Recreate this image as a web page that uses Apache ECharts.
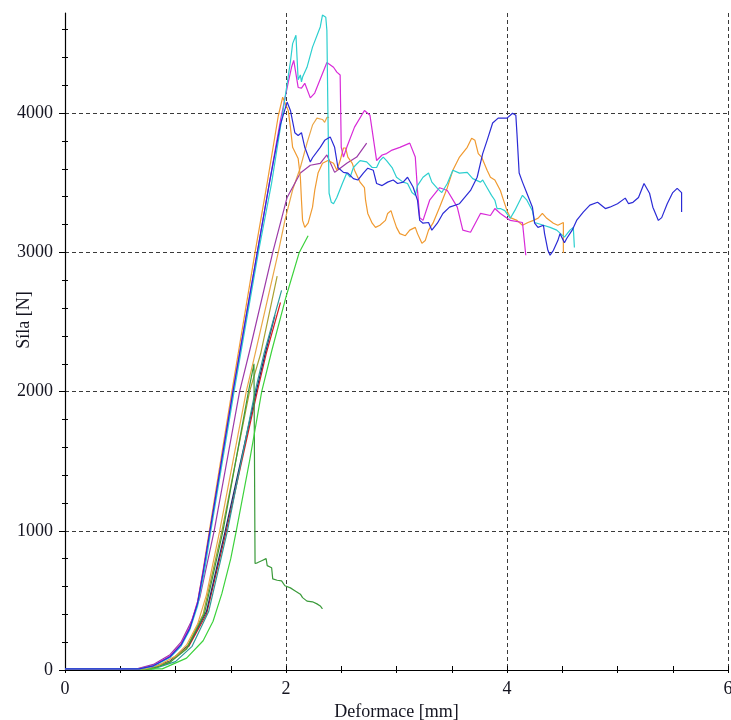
<!DOCTYPE html>
<html>
<head>
<meta charset="utf-8">
<script src="https://cdn.jsdelivr.net/npm/echarts@6/dist/echarts.min.js"></script>
<style>
  html, body { margin: 0; padding: 0; background: #fff; }
  #chart { width: 731px; height: 720px; }
</style>
</head>
<body>
<div id="chart"></div>
<script>
// Force–deformation curves, [deformation mm, force N]
const blue = [[0,8],[0.67,8],[0.8,30],[0.95,95],[1.05,180],[1.13,300],[1.2,480],[1.25,700],[1.31,990],[1.52,2000],[1.74,3000],[1.85,3500],[1.95,3920],[2.01,4080],[2.04,4020],[2.08,3860],[2.11,3840],[2.14,3860],[2.17,3755],[2.22,3650],[2.24,3680],[2.31,3755],[2.35,3805],[2.40,3830],[2.44,3755],[2.47,3610],[2.52,3575],[2.56,3570],[2.61,3530],[2.65,3520],[2.70,3570],[2.74,3605],[2.79,3590],[2.82,3495],[2.87,3480],[2.92,3505],[2.97,3520],[3.01,3495],[3.06,3505],[3.10,3540],[3.15,3470],[3.19,3375],[3.21,3230],[3.24,3210],[3.29,3215],[3.32,3160],[3.37,3210],[3.42,3280],[3.48,3325],[3.57,3350],[3.67,3445],[3.73,3540],[3.78,3710],[3.82,3805],[3.87,3930],[3.92,3965],[4.00,3965],[4.03,3985],[4.05,4000],[4.08,3985],[4.09,3855],[4.11,3570],[4.14,3505],[4.18,3425],[4.23,3325],[4.25,3210],[4.28,3180],[4.33,3195],[4.34,3135],[4.37,3015],[4.39,2980],[4.42,3015],[4.46,3085],[4.48,3135],[4.52,3070],[4.54,3100],[4.59,3160],[4.63,3230],[4.69,3290],[4.75,3340],[4.82,3360],[4.89,3315],[4.93,3325],[5.00,3350],[5.07,3390],[5.10,3350],[5.14,3360],[5.19,3395],[5.24,3495],[5.29,3425],[5.32,3325],[5.37,3230],[5.40,3250],[5.45,3350],[5.50,3430],[5.54,3460],[5.58,3430],[5.58,3290]];

const cyan = [[0,8],[0.68,8],[0.8,28],[0.95,90],[1.05,170],[1.13,290],[1.2,460],[1.26,700],[1.32,1000],[1.53,2000],[1.75,3000],[1.87,3500],[1.97,4000],[2.04,4370],[2.06,4500],[2.09,4560],[2.10,4400],[2.11,4240],[2.13,4275],[2.14,4225],[2.15,4260],[2.19,4330],[2.24,4475],[2.31,4620],[2.33,4705],[2.36,4690],[2.37,4595],[2.38,3970],[2.39,3425],[2.41,3360],[2.43,3350],[2.46,3395],[2.51,3495],[2.55,3570],[2.58,3540],[2.61,3610],[2.67,3660],[2.73,3650],[2.78,3610],[2.82,3610],[2.85,3660],[2.88,3685],[2.91,3660],[2.96,3610],[3.00,3540],[3.06,3505],[3.10,3495],[3.14,3430],[3.17,3410],[3.19,3480],[3.24,3540],[3.29,3570],[3.32,3505],[3.37,3460],[3.41,3430],[3.46,3495],[3.51,3590],[3.57,3570],[3.64,3575],[3.69,3530],[3.76,3505],[3.78,3520],[3.82,3465],[3.86,3410],[3.89,3375],[3.91,3315],[3.94,3315],[3.98,3300],[4.03,3245],[4.07,3300],[4.14,3410],[4.18,3375],[4.23,3300],[4.25,3215],[4.33,3195],[4.39,3180],[4.45,3160],[4.52,3110],[4.57,3160],[4.60,3180],[4.61,3035]];

const magenta = [[0,8],[0.66,8],[0.8,32],[0.95,100],[1.05,185],[1.13,310],[1.2,490],[1.25,710],[1.31,990],[1.52,2000],[1.74,3000],[1.85,3500],[1.95,3950],[2.02,4220],[2.05,4330],[2.07,4380],[2.11,4185],[2.14,4180],[2.17,4215],[2.22,4110],[2.26,4145],[2.37,4365],[2.43,4330],[2.46,4295],[2.49,4275],[2.50,3755],[2.52,3685],[2.55,3755],[2.62,3900],[2.71,4020],[2.76,3985],[2.82,3660],[2.87,3700],[2.91,3710],[2.96,3735],[3.03,3755],[3.12,3785],[3.17,3685],[3.19,3445],[3.21,3250],[3.24,3230],[3.30,3375],[3.39,3465],[3.46,3445],[3.55,3325],[3.60,3160],[3.67,3145],[3.76,3280],[3.85,3265],[3.89,3315],[3.94,3280],[4.03,3230],[4.14,3215],[4.17,2980]];

const orange = [[0,8],[0.66,8],[0.8,30],[0.95,98],[1.05,185],[1.13,305],[1.2,490],[1.25,720],[1.3,970],[1.51,2000],[1.72,3000],[1.83,3500],[1.93,3980],[1.97,4115],[2.02,4020],[2.04,3900],[2.06,3755],[2.11,3675],[2.13,3540],[2.14,3375],[2.15,3230],[2.17,3180],[2.20,3210],[2.24,3325],[2.26,3445],[2.29,3570],[2.33,3640],[2.38,3660],[2.43,3640],[2.46,3590],[2.49,3660],[2.52,3750],[2.54,3750],[2.56,3685],[2.60,3640],[2.62,3590],[2.67,3505],[2.71,3465],[2.72,3375],[2.74,3280],[2.78,3210],[2.81,3180],[2.85,3195],[2.90,3230],[2.92,3280],[2.95,3300],[2.97,3250],[3.00,3180],[3.03,3135],[3.08,3120],[3.12,3160],[3.17,3180],[3.19,3135],[3.23,3065],[3.26,3085],[3.29,3160],[3.33,3210],[3.39,3325],[3.46,3465],[3.51,3590],[3.57,3685],[3.64,3755],[3.68,3820],[3.71,3805],[3.74,3710],[3.77,3685],[3.82,3590],[3.85,3540],[3.89,3520],[3.94,3445],[3.96,3395],[4.00,3300],[4.03,3250],[4.09,3230],[4.14,3195],[4.19,3215],[4.24,3230],[4.28,3245],[4.32,3280],[4.36,3245],[4.42,3210],[4.46,3195],[4.51,3215],[4.51,2995]];

const lightOrange = [[0,8],[0.72,8],[0.85,35],[1.0,100],[1.1,180],[1.2,330],[1.28,540],[1.40,1000],[1.64,2000],[1.72,2270],[1.93,3000],[1.99,3230],[2.06,3450],[2.13,3610],[2.19,3785],[2.24,3915],[2.28,3965],[2.33,3955],[2.35,3935],[2.37,3970],[2.39,3970]];

const violet = [[0,8],[0.65,8],[0.8,40],[0.95,110],[1.05,200],[1.15,360],[1.22,520],[1.35,1000],[1.58,2000],[1.67,2290],[1.88,3000],[2.01,3395],[2.13,3570],[2.22,3626],[2.31,3640],[2.37,3700],[2.44,3575],[2.49,3605],[2.55,3640],[2.64,3685],[2.73,3785]];

const olive = [[0,8],[0.78,8],[0.95,60],[1.1,160],[1.25,400],[1.42,1000],[1.67,2000],[1.77,2270],[1.92,2830]];

const darkGreen = [[0,8],[0.78,8],[0.95,55],[1.1,150],[1.26,400],[1.43,1000],[1.66,2000],[1.71,2200],[1.72,765],[1.74,770],[1.78,785],[1.82,800],[1.83,750],[1.87,735],[1.88,655],[1.92,645],[1.96,640],[1.99,605],[2.04,590],[2.08,570],[2.13,545],[2.15,520],[2.19,495],[2.24,490],[2.28,475],[2.31,460],[2.33,440]];

const teal = [[0,8],[0.8,8],[1.0,60],[1.15,170],[1.3,420],[1.47,1000],[1.72,2000],[1.80,2270],[1.96,2727]];

const navy = [[0,8],[0.75,8],[0.95,65],[1.12,180],[1.28,420],[1.45,1000],[1.73,2000],[1.81,2270],[1.90,2550]];

const red = [[0,8],[0.75,8],[0.95,60],[1.12,170],[1.28,400],[1.46,1000],[1.74,2000],[1.82,2270],[1.95,2640]];

const brightGreen = [[0,8],[0.88,8],[1.1,85],[1.25,210],[1.34,350],[1.42,550],[1.5,800],[1.55,1000],[1.67,1500],[1.78,2000],[1.87,2290],[2.0,2680],[2.12,3000],[2.2,3120]];

// Axis tick positions
const xMajorTicks = [0, 2, 4, 6];
const yMajorTicks = [0, 1000, 2000, 3000, 4000];
const yMinorTicks = [200, 400, 600, 800, 1200, 1400, 1600, 1800, 2200, 2400, 2600, 2800, 3200, 3400, 3600, 3800, 4200, 4400, 4600];

const curves = [
  { data: red, color: '#d42020' },
  { data: navy, color: '#1e2a6e' },
  { data: teal, color: '#2f9a9a' },
  { data: olive, color: '#aaa030' },
  { data: darkGreen, color: '#3a9a3a' },
  { data: brightGreen, color: '#3cd23c' },
  { data: lightOrange, color: '#eaa748' },
  { data: violet, color: '#9c3aa8' },
  { data: orange, color: '#f09a30' },
  { data: magenta, color: '#d82ad8' },
  { data: cyan, color: '#2ccfcf' },
  { data: blue, color: '#2b2bd6' }
];

const FONT = 'Liberation Serif';
const TEXT = '#141420';
const X_MAX = 6, Y_MAX = 4720;
const dash = { type: [4, 3], color: '#3a3a3a', width: 1 };
const plain = v => String(v);

const chart = echarts.init(document.getElementById('chart'), null, { renderer: 'canvas' });
chart.setOption({
  animation: false,
  backgroundColor: '#fff',
  grid: { left: 65, right: 3, top: 13, bottom: 50, containLabel: false, outerBoundsMode: 'none' },
  xAxis: [
    {
      type: 'value', min: 0, max: X_MAX, interval: 2,
      name: 'Deformace [mm]', nameLocation: 'middle', nameGap: 26,
      nameTextStyle: { fontFamily: FONT, fontSize: 18, color: TEXT },
      axisLine: { onZero: false, lineStyle: { color: '#000', width: 1.2 } },
      axisTick: { show: false },
      axisLabel: { fontFamily: FONT, fontSize: 18, color: TEXT, margin: 10,
                   customValues: xMajorTicks, formatter: plain },
      splitLine: { show: true, showMinLine: false, lineStyle: dash }
    },
    {
      type: 'value', min: 0, max: X_MAX, interval: 0.5,
      axisLine: { show: false }, axisLabel: { show: false }, splitLine: { show: false },
      axisTick: { show: true, length: 4, lineStyle: { color: '#000', width: 1 } }
    },
    {
      type: 'value', min: 0, max: X_MAX, interval: 0.5,
      axisLine: { show: false }, axisLabel: { show: false }, splitLine: { show: false },
      axisTick: { show: true, inside: true, length: 3, lineStyle: { color: '#000', width: 1 } }
    }
  ],
  yAxis: [
    {
      type: 'value', min: 0, max: Y_MAX, interval: 1000, position: 'left',
      axisLine: { onZero: false, lineStyle: { color: '#000', width: 1.2 } },
      axisTick: { show: true, length: 6, customValues: yMajorTicks, lineStyle: { color: '#000', width: 1 } },
      axisLabel: { fontFamily: FONT, fontSize: 18, color: TEXT, margin: 12,
                   customValues: yMajorTicks, formatter: plain },
      splitLine: { show: true, showMinLine: false, lineStyle: dash }
    },
    {
      type: 'value', min: 0, max: Y_MAX, interval: 200, position: 'left',
      axisLine: { show: false }, axisLabel: { show: false }, splitLine: { show: false },
      axisTick: { show: true, length: 3, customValues: yMinorTicks, lineStyle: { color: '#000', width: 1 } }
    },
    {
      type: 'value', min: 0, max: Y_MAX, interval: 200, position: 'left',
      axisLine: { show: false }, axisLabel: { show: false }, splitLine: { show: false },
      axisTick: { show: true, inside: true, length: 3, customValues: yMinorTicks, lineStyle: { color: '#000', width: 1 } }
    }
  ],
  graphic: [
    {
      type: 'text', x: 24, y: 320, rotation: Math.PI / 2,
      style: { text: 'Síla [N]', font: '18px "' + FONT + '"', fill: TEXT,
               align: 'center', verticalAlign: 'middle' }
    }
  ],
  series: curves.map(c => ({
    type: 'line',
    data: c.data,
    xAxisIndex: 0, yAxisIndex: 0,
    showSymbol: false, symbol: 'none',
    lineStyle: { color: c.color, width: 1.2 },
    silent: true
  }))
});
</script>
</body>
</html>
